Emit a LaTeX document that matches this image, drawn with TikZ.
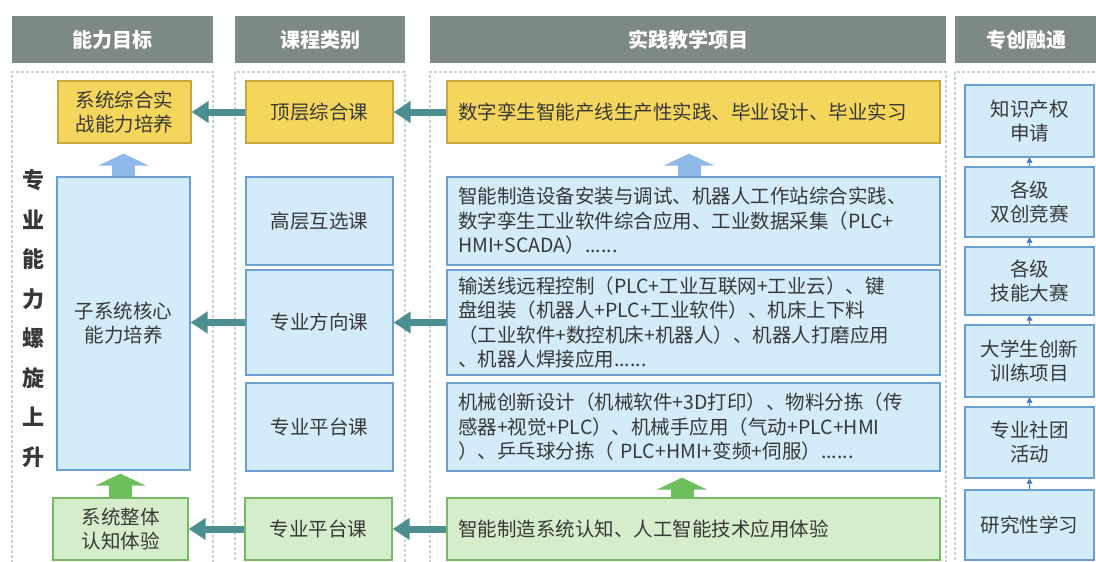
\documentclass[tikz,border=0pt]{standalone}
\usepackage{fontspec}
\setmainfont{Noto Sans CJK SC}
\usetikzlibrary{arrows.meta}
\definecolor{hdr}{HTML}{7D8987}
\definecolor{yfill}{HTML}{F5D65C}
\definecolor{ydraw}{HTML}{C9A640}
\definecolor{bfill}{HTML}{D4EBF9}
\definecolor{bdraw}{HTML}{6A9FD0}
\definecolor{gfill}{HTML}{D6EDCB}
\definecolor{gdraw}{HTML}{79B865}
\definecolor{tealc}{HTML}{4D8E90}
\definecolor{lbarrow}{HTML}{8EB8E8}
\definecolor{garrow}{HTML}{6DBE5C}
\definecolor{smallc}{HTML}{4472C4}
\definecolor{dashc}{HTML}{C6D2DA}
\definecolor{txt}{HTML}{383838}
\begin{document}
\begin{tikzpicture}[x=1pt,y=-1pt,
  hdrbox/.style={fill=hdr, draw=none, minimum height=47pt, inner sep=0pt,
    text=white, font=\fontsize{20}{23}\selectfont\bfseries},
  panel/.style={draw=dashc, line width=1.1pt, dash pattern=on 3pt off 2pt, fill=none, inner sep=0pt},
  basebox/.style={line width=1.3pt, inner sep=0pt, text=txt, align=center,
    font=\fontsize{19.5}{24}\selectfont},
  ybox/.style={basebox, fill=yfill, draw=ydraw},
  bbox/.style={basebox, fill=bfill, draw=bdraw},
  gbox/.style={basebox, fill=gfill, draw=gdraw},
  leftbox/.style={align=left, text width=471pt, font=\fontsize{19.5}{24.5}\selectfont},
  tealarrow/.style={draw=tealc, line width=7pt, -{Triangle[width=21pt,length=17pt]}},
  uparrow/.style={line width=23pt, -{Triangle[width=50pt,length=12pt]}},
  smallarrow/.style={draw=smallc, line width=0.6pt, -{Triangle[width=6pt,length=5pt]}}
]
\useasboundingbox (0,0) rectangle (1096,562);
\fill[white] (0,0) rectangle (1096,562);

% headers
\node[hdrbox, minimum width=201pt] (h1) at (112.5,39.5) {能力目标};
\node[hdrbox, minimum width=170pt] (h2) at (320,39.5) {课程类别};
\node[hdrbox, minimum width=516pt] (h3) at (688,39.5) {实践教学项目};
\node[hdrbox, minimum width=143pt] (h4) at (1026.5,39.5) {专创融通};

% dashed panels
\node[panel, minimum width=201pt, minimum height=500pt] (p1) at (112.5,322) {};
\node[panel, minimum width=170pt, minimum height=500pt] (p2) at (320,322) {};
\node[panel, minimum width=516pt, minimum height=500pt] (p3) at (688,322) {};
\node[panel, minimum width=145pt, minimum height=500pt] (p4) at (1027.5,322) {};

% vertical label
\node[text=txt, align=center, font=\fontsize{22}{39.5}\selectfont\bfseries] (vl) at (33,318.5)
  {专\\业\\能\\力\\螺\\旋\\上\\升};

% yellow row
\node[ybox, minimum width=133pt, minimum height=62pt] (y1) at (124.5,112) {系统综合实\\战能力培养};
\node[ybox, minimum width=147pt, minimum height=62pt] (y2) at (319.5,112) {顶层综合课};
\node[ybox, leftbox, minimum width=493pt, minimum height=62pt, inner xsep=11pt] (y3) at (693.5,112)
  {数字孪生智能产线生产性实践、毕业设计、毕业实习};

% blue rows
\node[bbox, minimum width=133pt, minimum height=293pt] (b1) at (123.5,323.5) {子系统核心\\能力培养};
\node[bbox, minimum width=147pt, minimum height=88pt] (b2) at (319.5,221) {高层互选课};
\node[bbox, minimum width=147pt, minimum height=105pt] (b3) at (319.5,322.5) {专业方向课};
\node[bbox, minimum width=147pt, minimum height=88pt] (b4) at (319.5,427) {专业平台课};

\node[bbox, leftbox, minimum width=493pt, minimum height=88pt, inner xsep=11pt] (c2) at (693.5,221)
  {智能制造设备安装与调试、机器人工作站综合实践、\\数字孪生工业软件综合应用、工业数据采集（PLC+\\HMI+SCADA）......};
\node[bbox, leftbox, minimum width=493pt, minimum height=105pt, inner xsep=11pt] (c3) at (693.5,322.5)
  {输送线远程控制（PLC+工业互联网+工业云）、键\\盘组装（机器人+PLC+工业软件）、机床上下料\\（工业软件+数控机床+机器人）、机器人打磨应用\\、机器人焊接应用......};
\node[bbox, leftbox, minimum width=493pt, minimum height=88pt, inner xsep=11pt] (c4) at (693.5,427)
  {机械创新设计（机械软件+3D打印）、物料分拣（传\\感器+视觉+PLC）、机械手应用（气动+PLC+HMI\\）、乒乓球分拣（ PLC+HMI+变频+伺服）......};

% green row
\node[gbox, minimum width=135pt, minimum height=62pt] (g1) at (120.5,529) {系统整体\\认知体验};
\node[gbox, minimum width=147pt, minimum height=62pt] (g2) at (318.5,529) {专业平台课};
\node[gbox, leftbox, minimum width=493pt, minimum height=62pt, inner xsep=11pt] (g3) at (693.5,529)
  {智能制造系统认知、人工智能技术应用体验};

% right column
\node[bbox, minimum width=129pt, minimum height=72pt] (r1) at (1029.5,121) {知识产权\\申请};
\node[bbox, minimum width=129pt, minimum height=70pt] (r2) at (1029.5,202) {各级\\双创竞赛};
\node[bbox, minimum width=129pt, minimum height=68pt] (r3) at (1029.5,281) {各级\\技能大赛};
\node[bbox, minimum width=129pt, minimum height=72pt] (r4) at (1029.5,361) {大学生创新\\训练项目};
\node[bbox, minimum width=129pt, minimum height=71pt] (r5) at (1029.5,442.5) {专业社团\\活动};
\node[bbox, minimum width=129pt, minimum height=70pt] (r6) at (1029.5,525) {研究性学习};

% teal arrows
\draw[tealarrow] (y2.west) -- (y1.east);
\draw[tealarrow] (y3.west) -- (y2.east);
\draw[tealarrow] (b3.west) -- (b3.west -| b1.east);
\draw[tealarrow] (c3.west) -- (b3.east);
\draw[tealarrow] (g2.west) -- (g1.east);
\draw[tealarrow] (g3.west) -- (g2.east);

% up arrows
\draw[uparrow, draw=lbarrow, shorten >=10pt] (b1.north) -- (b1.north |- y1.south);
\draw[uparrow, draw=lbarrow, shorten >=10pt] ([xshift=-4.5pt]c2.north) -- ([xshift=-4.5pt]y3.south);
\draw[uparrow, draw=garrow, shorten >=3pt] (g1.north) -- (g1.north |- b1.south);
\draw[uparrow, draw=garrow, shorten >=6pt] ([xshift=-11.5pt]g3.north) -- ([xshift=-11.5pt]c4.south);

% small arrows in right column
\draw[smallarrow] (r2.north) -- (r1.south);
\draw[smallarrow] (r3.north) -- (r2.south);
\draw[smallarrow] (r4.north) -- (r3.south);
\draw[smallarrow] (r5.north) -- (r4.south);
\draw[smallarrow] (r6.north) -- (r5.south);
\end{tikzpicture}
\end{document}
